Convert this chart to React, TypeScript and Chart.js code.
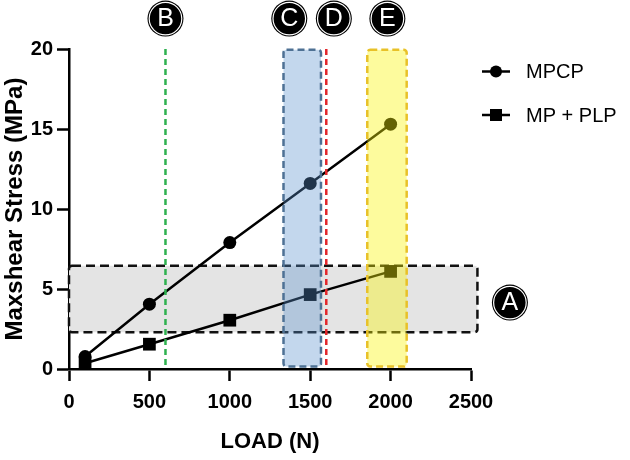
import React, { useRef, useEffect } from "react";
import { Chart, registerables } from "chart.js";

Chart.register(...registerables);

const loads = [100, 500, 1000, 1500, 2000];
const mpcpStress = [0.78, 4.05, 7.9, 11.6, 15.3];
const mpPlpStress = [0.36, 1.55, 3.05, 4.65, 6.1];
const seriesNames = ["MPCP", "MP + PLP"];

const xTicks = [0, 500, 1000, 1500, 2000, 2500];
const yTicks = [0, 5, 10, 15, 20];

// shaded regions and reference lines, in data units
const zoneA = { x0: 0, x1: 2540, y0: 2.3, y1: 6.45 };
const zoneC = { x0: 1334, x1: 1567, y0: 0.15, y1: 19.95 };
const zoneE = { x0: 1855, x1: 2100, y0: 0.15, y1: 19.95 };
const lineB = 600;
const lineD = 1600;

// circled letters: [letter, x, y]
const markers: [string, number, number][] = [
  ["B", 600, 21.9],
  ["C", 1370, 21.9],
  ["D", 1647, 21.9],
  ["E", 1980, 21.9],
  ["A", 2742, 4.15],
];

const FONT = "'Liberation Sans', Arial, sans-serif";

const box = (ctx: CanvasRenderingContext2D, chart: any, z: any, fill: string, stroke: string, dash: number[]) => {
  const { x, y } = chart.scales;
  const l = x.getPixelForValue(z.x0);
  const r = x.getPixelForValue(z.x1);
  const t = y.getPixelForValue(z.y1);
  const b = y.getPixelForValue(z.y0);
  ctx.save();
  ctx.beginPath();
  ctx.roundRect(l, t, r - l, b - t, 3);
  ctx.fillStyle = fill;
  ctx.fill();
  ctx.setLineDash(dash);
  ctx.lineWidth = 2.5;
  ctx.strokeStyle = stroke;
  ctx.stroke();
  ctx.restore();
};

const vline = (ctx: CanvasRenderingContext2D, chart: any, v: number, y0: number, color: string) => {
  const { x, y } = chart.scales;
  const px = x.getPixelForValue(v);
  ctx.save();
  ctx.beginPath();
  ctx.moveTo(px, y.getPixelForValue(20));
  ctx.lineTo(px, y.getPixelForValue(y0));
  ctx.setLineDash([6, 4]);
  ctx.lineWidth = 2.5;
  ctx.strokeStyle = color;
  ctx.stroke();
  ctx.restore();
};

const overlays = {
  id: "overlays",
  beforeDatasetsDraw(chart: any) {
    box(chart.ctx, chart, zoneA, "#e4e4e4", "#111", [9, 5]);
  },
  afterDatasetsDraw(chart: any) {
    const ctx = chart.ctx;
    box(ctx, chart, zoneC, "rgba(88,145,205,0.36)", "#4e7194", [7, 4]);
    box(ctx, chart, zoneE, "rgba(250,244,10,0.4)", "#e8c128", [7, 4]);
    vline(ctx, chart, lineB, 0, "#2eb14f");
    vline(ctx, chart, lineD, 0.15, "#e3262b");
  },
  afterDraw(chart: any) {
    const ctx = chart.ctx;
    const { x, y } = chart.scales;
    markers.forEach(([letter, mx, my]) => {
      const cx = x.getPixelForValue(mx);
      const cy = y.getPixelForValue(my);
      ctx.save();
      ctx.beginPath();
      ctx.arc(cx, cy, 18, 0, Math.PI * 2);
      ctx.fillStyle = "#000";
      ctx.fill();
      ctx.beginPath();
      ctx.arc(cx, cy, 16.3, 0, Math.PI * 2);
      ctx.lineWidth = 1.2;
      ctx.strokeStyle = "#fff";
      ctx.stroke();
      ctx.fillStyle = "#fff";
      ctx.font = `25px ${FONT}`;
      ctx.textAlign = "center";
      ctx.textBaseline = "middle";
      ctx.fillText(letter, cx, cy + 1);
      ctx.restore();
    });

    // legend
    const rows = [71.5, 115];
    seriesNames.forEach((name, i) => {
      const ly = rows[i];
      ctx.save();
      ctx.beginPath();
      ctx.moveTo(482, ly);
      ctx.lineTo(510, ly);
      ctx.lineWidth = 2.5;
      ctx.strokeStyle = "#000";
      ctx.stroke();
      ctx.fillStyle = "#000";
      if (i === 0) {
        ctx.beginPath();
        ctx.arc(496, ly, 6, 0, Math.PI * 2);
        ctx.fill();
      } else {
        ctx.fillRect(490, ly - 6, 12, 12);
      }
      ctx.font = `20px ${FONT}`;
      ctx.textAlign = "left";
      ctx.textBaseline = "middle";
      ctx.fillText(name, 526, ly + 1);
      ctx.restore();
    });
  },
};

const App: React.FC = () => {
  const canvasRef = useRef<HTMLCanvasElement | null>(null);
  const chartRef = useRef<Chart | null>(null);

  useEffect(() => {
    if (!canvasRef.current) return;
    if (chartRef.current) chartRef.current.destroy();

    const tickFont = { family: FONT, size: 20, weight: "bold" as const };

    chartRef.current = new Chart(canvasRef.current, {
      type: "line",
      data: {
        datasets: [
          {
            label: seriesNames[0],
            data: loads.map((l, i) => ({ x: l, y: mpcpStress[i] })),
            borderColor: "#000",
            backgroundColor: "#000",
            borderWidth: 2.5,
            pointStyle: "circle",
            pointRadius: 6.5,
            pointBorderWidth: 0,
          },
          {
            label: seriesNames[1],
            data: loads.map((l, i) => ({ x: l, y: mpPlpStress[i] })),
            borderColor: "#000",
            backgroundColor: "#000",
            borderWidth: 2.5,
            pointStyle: "rect",
            pointRadius: 9,
            pointBorderWidth: 0,
          },
        ],
      },
      options: {
        animation: false,
        responsive: true,
        maintainAspectRatio: false,
        layout: { padding: { top: 49, right: 159, left: 0, bottom: 0 } },
        plugins: {
          legend: { display: false },
          tooltip: { enabled: false },
        },
        scales: {
          x: {
            type: "linear",
            min: 0,
            max: 2500,
            afterFit: (s: any) => {
              s.height = 91;
            },
            afterBuildTicks: (s: any) => {
              s.ticks = xTicks.map((v) => ({ value: v }));
            },
            grid: {
              drawOnChartArea: false,
              tickLength: 12,
              tickWidth: 2.5,
              tickColor: "#000",
            },
            border: { color: "#000", width: 2.5 },
            ticks: {
              color: "#000",
              font: tickFont,
              padding: 9,
              maxRotation: 0,
              callback: (v: any) => String(v),
            },
            title: {
              display: true,
              text: "LOAD (N)",
              color: "#000",
              font: { family: FONT, size: 22, weight: "bold" },
              padding: { top: 0, bottom: 5 },
            },
          },
          y: {
            type: "linear",
            min: 0,
            max: 20,
            afterFit: (s: any) => {
              s.width = 69;
            },
            afterBuildTicks: (s: any) => {
              s.ticks = yTicks.map((v) => ({ value: v }));
            },
            grid: {
              drawOnChartArea: false,
              tickLength: 12,
              tickWidth: 2.5,
              tickColor: "#000",
            },
            border: { color: "#000", width: 2.5 },
            ticks: {
              color: "#000",
              font: tickFont,
              padding: 4,
              callback: (v: any) => String(v),
            },
            title: {
              display: true,
              text: "Maxshear Stress (MPa)",
              color: "#000",
              font: { family: FONT, size: 24, weight: "bold" },
              padding: { top: 1, bottom: 0 },
            },
          },
        },
      },
      plugins: [overlays],
    });

    return () => {
      if (chartRef.current) {
        chartRef.current.destroy();
        chartRef.current = null;
      }
    };
  }, []);

  return (
    <div
      style={{
        position: "absolute",
        left: 0,
        top: 0,
        width: 630,
        height: 460,
        background: "#fff",
      }}
    >
      <canvas ref={canvasRef} />
    </div>
  );
};

export default App;
